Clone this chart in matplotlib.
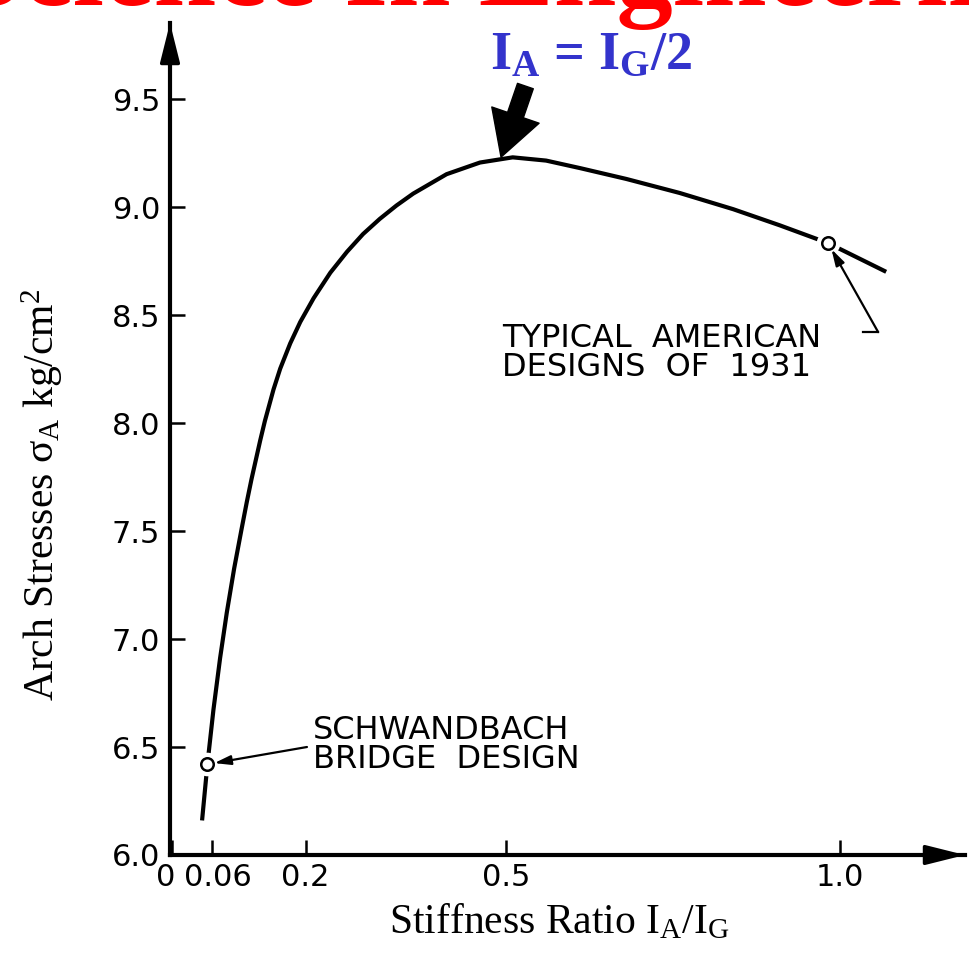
import matplotlib
matplotlib.use("Agg")
import matplotlib.pyplot as plt
from matplotlib.transforms import ScaledTranslation

# ---- data ----
stiffness = [0.045, 0.053, 0.062, 0.072, 0.082, 0.093, 0.104, 0.112, 0.119, 0.132,
             0.139, 0.152, 0.162, 0.177, 0.192, 0.212, 0.237, 0.262, 0.286, 0.311,
             0.336, 0.361, 0.411, 0.461, 0.51, 0.56, 0.611, 0.68, 0.76, 0.84,
             0.91, 0.982, 1.069]
stress = [6.16, 6.42, 6.672, 6.912, 7.122, 7.326, 7.507, 7.635, 7.74, 7.919,
          8.009, 8.156, 8.252, 8.369, 8.468, 8.578, 8.696, 8.793, 8.875, 8.945,
          9.007, 9.062, 9.152, 9.206, 9.23, 9.215, 9.18, 9.13, 9.065, 8.99,
          8.915, 8.833, 8.70]

design_x = [0.053, 0.982]
design_y = [6.42, 8.833]
design_labels = ["SCHWANDBACH\nBRIDGE  DESIGN", "TYPICAL  AMERICAN\nDESIGNS  OF  1931"]

xticks = [0, 0.06, 0.2, 0.5, 1.0]
xticklabels = ["0", "0.06", "0.2", "0.5", "1.0"]
yticks = [6.0, 6.5, 7.0, 7.5, 8.0, 8.5, 9.0, 9.5]
yticklabels = ["6.0", "6.5", "7.0", "7.5", "8.0", "8.5", "9.0", "9.5"]

optimum_x, optimum_y = 0.4925, 9.231

plt.rcParams['mathtext.fontset'] = 'custom'
plt.rcParams['mathtext.rm'] = 'Liberation Serif'
plt.rcParams['mathtext.it'] = 'Liberation Serif:italic'
plt.rcParams['mathtext.bf'] = 'Liberation Serif:bold'

W, H = 970, 956
fig = plt.figure(figsize=(W / 100, H / 100), dpi=100)
fig.patch.set_facecolor('white')

left_px, right_px, bottom_px, top_px = 170, 965, 855, 23
ax = fig.add_axes([left_px / W, 1 - bottom_px / H,
                   (right_px - left_px) / W, (bottom_px - top_px) / H])
ax.set_xlim(-0.003, 1.187)
ax.set_ylim(6.0, 9.852)

for s in ['top', 'right']:
    ax.spines[s].set_visible(False)
for s in ['left', 'bottom']:
    ax.spines[s].set_linewidth(3)
    ax.spines[s].set_color('black')

ax.set_xticks(xticks)
ax.set_xticklabels(xticklabels)
ax.set_yticks(yticks)
ax.set_yticklabels(yticklabels)
ax.tick_params(axis='both', direction='in', length=11, width=1.8, labelsize=22)
ax.tick_params(axis='y', pad=7)
ax.tick_params(axis='x', pad=6)
for lab in ax.get_xticklabels() + ax.get_yticklabels():
    lab.set_family('DejaVu Sans')
# keep "0" and "0.06" apart as in the reference
xl = ax.get_xticklabels()
xl[0].set_transform(xl[0].get_transform() + ScaledTranslation(-6 / 100, 0, fig.dpi_scale_trans))
xl[1].set_transform(xl[1].get_transform() + ScaledTranslation(6 / 100, 0, fig.dpi_scale_trans))

# axis arrow heads
arrow_kw = dict(arrowstyle='-|>,head_length=0.8,head_width=0.2', lw=2.5,
                color='black', shrinkA=0, shrinkB=0, mutation_scale=30)
ax.annotate('', xy=(0, 1), xytext=(0, 0.96), xycoords='axes fraction',
            textcoords='axes fraction', arrowprops=arrow_kw, annotation_clip=False)
ax.annotate('', xy=(1, 0), xytext=(0.96, 0), xycoords='axes fraction',
            textcoords='axes fraction', arrowprops=arrow_kw, annotation_clip=False)

# curve
ax.plot(stiffness, stress, color='black', lw=3, zorder=2, solid_capstyle='butt',
        solid_joinstyle='round')
# gaps around design points
ax.plot(design_x, design_y, 'o', ms=17, mfc='white', mec='none', zorder=3)

# leader lines
lead_kw = dict(arrowstyle='-|>,head_length=0.7,head_width=0.2', lw=1.6,
               color='black', shrinkA=0, shrinkB=5, mutation_scale=14)
ax.annotate('', xy=(design_x[0], design_y[0]), xytext=(0.202, 6.50),
            arrowprops=lead_kw, zorder=4)
ax.plot([1.034, 1.057], [8.421, 8.421], color='black', lw=1.6, zorder=4)
ax.annotate('', xy=(design_x[1], design_y[1]), xytext=(1.057, 8.421),
            arrowprops=lead_kw, zorder=4)

ax.plot(design_x, design_y, 'o', ms=9, mfc='white', mec='black', mew=1.8, zorder=5)

ax.text(0.211, 6.648, design_labels[0], ha='left', va='top', fontsize=23,
        family='DejaVu Sans', linespacing=0.9, zorder=6)
ax.text(0.494, 8.463, design_labels[1], ha='left', va='top', fontsize=23,
        family='DejaVu Sans', linespacing=0.9, zorder=6)

# big arrow to optimum
ax.annotate('', xy=(optimum_x, optimum_y), xytext=(0.529, 9.56),
            arrowprops=dict(facecolor='black', edgecolor='black', width=12,
                            headwidth=36, headlength=32, shrink=0),
            annotation_clip=False, zorder=6)

# blue annotation
fig.text(490 / W, 1 - 68 / H, r'I$_\mathbf{A}$ = I$_\mathbf{G}$/2', ha='left',
         va='baseline', fontsize=39, fontweight='bold', family='Liberation Serif',
         color='#3333CC')

# red title (cut off at the top of the picture)
fig.text(-40 / W, 1 - 5 / H, 'Science In Engineering', ha='left', va='baseline',
         fontsize=81, fontweight='bold', family='Liberation Serif', color='#FF0000')

# axis labels
fig.text(559 / W, 1 - 922 / H, r'Stiffness Ratio I$_\mathrm{A}$/I$_\mathrm{G}$',
         ha='center', va='center', fontsize=30, family='Liberation Serif')
fig.text(42 / W, 1 - 495 / H, r'Arch Stresses σ$_\mathrm{A}$ kg/cm$^\mathrm{2}$',
         ha='center', va='center', rotation=90, fontsize=30, family='Liberation Serif')

fig.savefig('out.png', dpi=100)
